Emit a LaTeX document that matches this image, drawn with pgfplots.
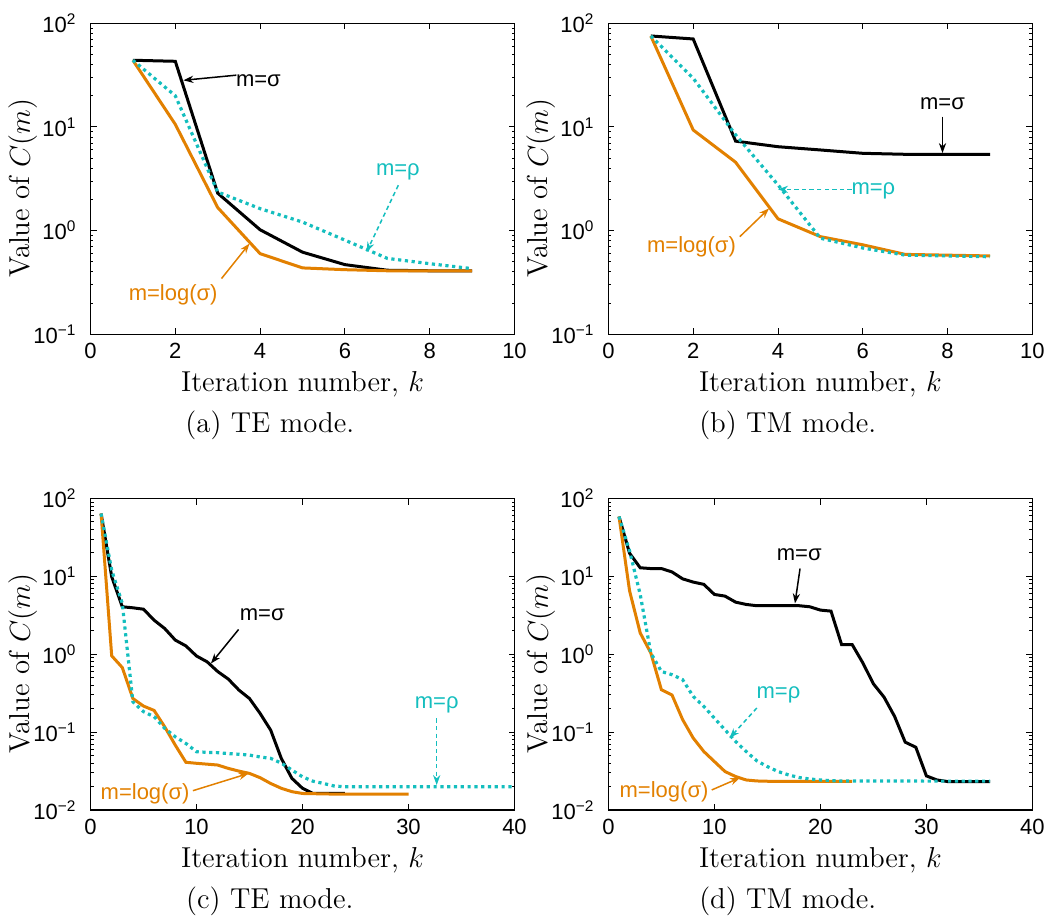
\documentclass[border=0pt]{standalone}
\usepackage{fontspec}
\usepackage{pgfplots}
\pgfplotsset{compat=1.18}
\usetikzlibrary{arrows.meta}
\newfontfamily\hv{Liberation Sans}
\definecolor{myorange}{RGB}{226,128,0}
\definecolor{mycyan}{RGB}{20,190,190}
\newcommand\lab{\fontsize{14.4}{17}\selectfont}
\newcommand\annf{\hv\fontsize{11}{13}\selectfont}
\pgfplotsset{
  every axis/.append style={
    scale only axis, width=212pt,
    clip=false,
    axis line style={line width=0.6pt},
    tick style={line width=0.5pt, black},
    major tick length=3pt, minor tick length=1.5pt,
    ticklabel style={font=\hv\fontsize{11}{13}\selectfont},
    yticklabel style={xshift=-3.5pt},
    xticklabel style={yshift=-1pt},
    label style={font=\lab},
    xlabel style={at={(axis description cs:0.5,0)}, anchor=center, yshift=-25pt},
    ylabel style={at={(axis description cs:-0.16,0.47)}, anchor=center},
  },
}
\tikzset{
  blk/.style={black, line width=1.5pt},
  org/.style={myorange, line width=1.5pt},
  cyn/.style={mycyan, line width=1.6pt, dash pattern=on 1.6pt off 1.8pt},
  ann/.style={-{Stealth[length=5pt,width=3.6pt]}, line width=0.75pt},
  anndash/.style={ann, dash pattern=on 2.2pt off 1.6pt}}
\begin{document}
\begin{tikzpicture}
\path[use as bounding box] (0pt,0pt) rectangle (525pt,-460pt);
% (a)
\begin{axis}[at={(45.25pt,-11.65pt)}, anchor=north west, height=155.5pt,
  ymode=log, xmin=0, xmax=10, xtick={0,2,4,6,8,10}, xticklabels={0,2,4,6,8,10},
  ymin=0.1, ymax=100, ytick={0.1,1,10,100},
  minor ytick={0.2,0.3,0.4,0.5,0.6,0.7,0.8,0.9,2,3,4,5,6,7,8,9,20,30,40,50,60,70,80,90},
  yticklabels={10\textsuperscript{−1},10\textsuperscript{0},10\textsuperscript{1},10\textsuperscript{2}},
  xlabel={Iteration number, $k$}, ylabel={Value of $C(m)$}]
\addplot[blk] coordinates {(1,44)(2,43)(3,2.3)(4,1.02)(5,0.62)(6,0.47)(7,0.415)(8,0.41)(9,0.41)};
\addplot[org] coordinates {(1,44)(2,10.6)(3,1.67)(4,0.60)(5,0.437)(6,0.42)(7,0.41)(8,0.41)(9,0.41)};
\addplot[cyn] coordinates {(1,44)(2,20)(3,2.36)(4,1.63)(5,1.21)(6,0.81)(7,0.54)(8,0.48)(9,0.43)};
\draw[ann] (axis cs:3.44,31.6) -- (axis cs:2.19,28.2);
\node[font=\annf, black] at (axis cs:3.96,28.2) {m=σ};
\draw[anndash, mycyan] (axis cs:7.26,2.74) -- (axis cs:6.51,0.623);
\node[font=\annf, mycyan] at (axis cs:7.25,3.66) {m=ρ};
\draw[ann, myorange] (axis cs:3.09,0.345) -- (axis cs:3.75,0.75);
\node[font=\annf, myorange] at (axis cs:1.95,0.238) {m=log(σ)};
\node[font=\lab, yshift=-45.5pt] at (axis description cs:0.423,0) {(a) TE mode.};
\end{axis}
% (b)
\begin{axis}[at={(304.2pt,-11.65pt)}, anchor=north west, height=155.5pt,
  ymode=log, xmin=0, xmax=10, xtick={0,2,4,6,8,10}, xticklabels={0,2,4,6,8,10},
  ymin=0.1, ymax=100, ytick={0.1,1,10,100},
  minor ytick={0.2,0.3,0.4,0.5,0.6,0.7,0.8,0.9,2,3,4,5,6,7,8,9,20,30,40,50,60,70,80,90},
  yticklabels={10\textsuperscript{−1},10\textsuperscript{0},10\textsuperscript{1},10\textsuperscript{2}},
  xlabel={Iteration number, $k$}, ylabel={Value of $C(m)$}]
\addplot[blk] coordinates {(1,75.5)(2,70.6)(3,7.3)(4,6.45)(5,6.0)(6,5.57)(7,5.45)(8,5.45)(9,5.45)};
\addplot[org] coordinates {(1,75.5)(2,9.35)(3,4.57)(4,1.30)(5,0.875)(6,0.73)(7,0.59)(8,0.58)(9,0.57)};
\addplot[cyn] coordinates {(1,75.5)(2,29.5)(3,8.4)(4,2.76)(5,0.845)(6,0.68)(7,0.58)(8,0.57)(9,0.56)};
\draw[ann] (axis cs:7.88,12.6) -- (axis cs:7.88,5.6);
\node[font=\annf, black] at (axis cs:7.88,16.9) {m=σ};
\draw[anndash, mycyan] (axis cs:5.74,2.5) -- (axis cs:4.0,2.5);
\node[font=\annf, mycyan] at (axis cs:6.25,2.41) {m=ρ};
\draw[ann, myorange] (axis cs:3.10,0.875) -- (axis cs:3.79,1.64);
\node[font=\annf, myorange] at (axis cs:1.96,0.70) {m=log(σ)};
\node[font=\lab, yshift=-45.5pt] at (axis description cs:0.423,0) {(b) TM mode.};
\end{axis}
% (c)
\begin{axis}[at={(45.25pt,-249.25pt)}, anchor=north west, height=155.75pt,
  ymode=log, xmin=0, xmax=40, xtick={0,10,20,30,40}, xticklabels={0,10,20,30,40},
  ymin=0.01, ymax=100, ytick={0.01,0.1,1,10,100},
  minor ytick={0.02,0.03,0.04,0.05,0.06,0.07,0.08,0.09,0.2,0.3,0.4,0.5,0.6,0.7,0.8,0.9,2,3,4,5,6,7,8,9,20,30,40,50,60,70,80,90},
  yticklabels={10\textsuperscript{−2},10\textsuperscript{−1},10\textsuperscript{0},10\textsuperscript{1},10\textsuperscript{2}},
  xlabel={Iteration number, $k$}, ylabel={Value of $C(m)$}]
\addplot[blk] coordinates {(1,64)(2,9.9)(3,4.07)(4,3.95)(5,3.79)(6,2.74)(7,2.14)(8,1.52)(9,1.28)(10,0.95)(11,0.80)(12,0.60)(13,0.48)(14,0.347)(15,0.27)(16,0.174)(17,0.106)(18,0.046)(19,0.0255)(20,0.019)(21,0.0163)(22,0.0163)(23,0.0163)(24,0.0163)};
\addplot[org] coordinates {(1,64)(2,0.955)(3,0.675)(4,0.27)(5,0.216)(6,0.19)(7,0.117)(8,0.068)(9,0.041)(10,0.0398)(11,0.0388)(12,0.0378)(13,0.0342)(14,0.0316)(15,0.0295)(16,0.026)(17,0.0219)(18,0.019)(19,0.0172)(20,0.0163)(21,0.0162)(22,0.0161)(23,0.016)(24,0.016)(25,0.016)(26,0.016)(27,0.016)(28,0.016)(29,0.016)(30,0.016)};
\addplot[cyn] coordinates {(1,64)(2,12)(3,4.5)(4,0.245)(5,0.183)(6,0.158)(7,0.112)(8,0.087)(9,0.0716)(10,0.056)(11,0.055)(12,0.0545)(13,0.053)(14,0.052)(15,0.0507)(16,0.048)(17,0.046)(18,0.040)(19,0.0326)(20,0.0267)(21,0.0234)(22,0.0219)(23,0.0203)(24,0.0199)(30,0.0199)(35,0.0199)(40,0.0199)};
\draw[ann] (axis cs:13.97,2.08) -- (axis cs:11.36,0.76);
\node[font=\annf, black] at (axis cs:16.2,3.18) {m=σ};
\draw[anndash, mycyan] (axis cs:32.66,0.15) -- (axis cs:32.66,0.0209);
\node[font=\annf, mycyan] at (axis cs:32.66,0.222) {m=ρ};
\draw[ann, myorange] (axis cs:9.66,0.0177) -- (axis cs:14.92,0.0295);
\node[font=\annf, myorange] at (axis cs:5.15,0.0163) {m=log(σ)};
\node[font=\lab, yshift=-45.5pt] at (axis description cs:0.423,0) {(c) TE mode.};
\end{axis}
% (d)
\begin{axis}[at={(304.2pt,-249.25pt)}, anchor=north west, height=155.75pt,
  ymode=log, xmin=0, xmax=40, xtick={0,10,20,30,40}, xticklabels={0,10,20,30,40},
  ymin=0.01, ymax=100, ytick={0.01,0.1,1,10,100},
  minor ytick={0.02,0.03,0.04,0.05,0.06,0.07,0.08,0.09,0.2,0.3,0.4,0.5,0.6,0.7,0.8,0.9,2,3,4,5,6,7,8,9,20,30,40,50,60,70,80,90},
  yticklabels={10\textsuperscript{−2},10\textsuperscript{−1},10\textsuperscript{0},10\textsuperscript{1},10\textsuperscript{2}},
  xlabel={Iteration number, $k$}, ylabel={Value of $C(m)$}]
\addplot[blk] coordinates {(1,58.6)(2,19.8)(3,12.9)(4,12.6)(5,12.6)(6,11.4)(7,9.3)(8,8.45)(9,7.9)(10,5.86)(11,5.58)(12,4.67)(13,4.36)(14,4.2)(15,4.2)(16,4.2)(17,4.2)(18,4.2)(19,4.07)(20,3.69)(21,3.58)(22,1.33)(23,1.33)(24,0.776)(25,0.417)(26,0.282)(27,0.159)(28,0.0743)(29,0.064)(30,0.0274)(31,0.0243)(32,0.0232)(33,0.0232)(34,0.0232)(35,0.0232)(36,0.0232)};
\addplot[org] coordinates {(1,58.6)(2,6.5)(3,1.88)(4,1.04)(5,0.35)(6,0.30)(7,0.145)(8,0.084)(9,0.0564)(10,0.0419)(11,0.0312)(12,0.0269)(13,0.0243)(14,0.0236)(15,0.0234)(16,0.0233)(17,0.0233)(18,0.0233)(19,0.0233)(20,0.0233)(21,0.0233)(22,0.0233)(23,0.0233)};
\addplot[cyn] coordinates {(1,58.6)(2,21.2)(3,5.87)(4,1.04)(5,0.60)(6,0.547)(7,0.472)(8,0.288)(9,0.214)(10,0.151)(11,0.107)(12,0.076)(13,0.0564)(14,0.0428)(15,0.0361)(16,0.0312)(17,0.0282)(18,0.0261)(19,0.025)(20,0.0243)(21,0.0238)(22,0.0236)(30,0.0235)(36,0.0235)};
\draw[ann] (axis cs:18.08,12.6) -- (axis cs:17.6,4.49);
\node[font=\annf, black] at (axis cs:18.0,19.2) {m=σ};
\draw[anndash, mycyan] (axis cs:14.0,0.204) -- (axis cs:11.42,0.0837);
\node[font=\annf, mycyan] at (axis cs:16.04,0.30) {m=ρ};
\draw[ann, myorange] (axis cs:9.75,0.0181) -- (axis cs:12.42,0.026);
\node[font=\annf, myorange] at (axis cs:5.25,0.0172) {m=log(σ)};
\node[font=\lab, yshift=-45.5pt] at (axis description cs:0.423,0) {(d) TM mode.};
\end{axis}
\end{tikzpicture}
\end{document}
